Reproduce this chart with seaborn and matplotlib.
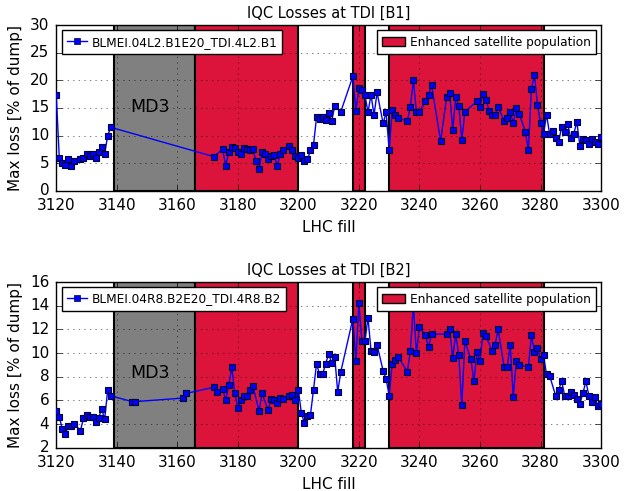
import matplotlib
matplotlib.use("Agg")
import matplotlib.pyplot as plt
import seaborn as sns
from matplotlib.lines import Line2D
from matplotlib.patches import Patch

# B1 data (fill number, max loss in % of dump)
fills_b1 = [3120, 3121, 3122, 3123, 3124, 3125, 3126, 3128, 3129, 3130, 3131, 3132, 3133, 3134,
            3135, 3136, 3137, 3138, 3172, 3175, 3176, 3177, 3178, 3179, 3180, 3181, 3182, 3183,
            3184, 3185, 3186, 3187, 3188, 3189, 3190, 3191, 3192, 3193, 3194, 3195, 3197, 3198,
            3199, 3200, 3201, 3202, 3203, 3204, 3205, 3206, 3207, 3208, 3209, 3210, 3211, 3212,
            3214, 3218, 3219, 3220, 3221, 3222, 3223, 3224, 3225, 3226, 3228, 3229, 3230, 3231,
            3232, 3233, 3236, 3237, 3238, 3239, 3240, 3242, 3243, 3244, 3247, 3249, 3250, 3251,
            3252, 3253, 3254, 3255, 3259, 3260, 3261, 3262, 3263, 3264, 3265, 3266, 3268, 3269,
            3270, 3271, 3272, 3273, 3275, 3276, 3277, 3278, 3279, 3280, 3281, 3282, 3283, 3284,
            3285, 3286, 3287, 3288, 3289, 3290, 3291, 3292, 3293, 3294, 3295, 3296, 3297, 3298,
            3299, 3300]
loss_b1 = [17.4, 6.0, 5.1, 4.6, 5.7, 4.5, 5.4, 5.7, 6.0, 6.7, 6.3, 6.6, 6.0, 7.0,
           7.9, 6.7, 10.0, 11.5, 6.2, 7.5, 4.5, 7.1, 7.9, 7.7, 7.1, 6.7, 7.7, 7.5,
           7.4, 7.5, 5.4, 3.9, 7.0, 6.6, 5.8, 6.3, 6.4, 4.5, 6.7, 7.3, 8.1, 7.3,
           6.3, 5.9, 6.4, 5.4, 5.7, 7.3, 8.3, 13.3, 13.0, 13.3, 12.9, 14.1, 12.6, 15.3,
           14.3, 20.7, 14.5, 18.6, 18.3, 17.3, 14.2, 17.4, 13.7, 17.8, 12.2, 14.2, 7.4, 14.6,
           13.7, 13.2, 12.6, 15.2, 20.0, 14.2, 14.3, 16.2, 17.3, 19.2, 9.0, 17.0, 17.7, 11.0,
           16.9, 15.4, 9.2, 14.3, 16.2, 15.2, 17.6, 16.5, 14.5, 13.7, 13.8, 15.1, 12.7, 13.2,
           14.2, 12.3, 14.9, 13.9, 10.7, 7.3, 18.5, 21.0, 15.5, 12.3, 10.3, 13.8, 10.3, 10.9,
           9.6, 8.9, 11.6, 10.7, 12.1, 9.5, 10.3, 12.5, 8.2, 9.4, 9.2, 8.4, 9.4, 8.9,
           8.5, 9.7]

# B2 data
fills_b2 = [3120, 3121, 3122, 3123, 3124, 3125, 3126, 3128, 3129, 3130, 3131, 3132, 3133, 3134,
            3135, 3136, 3137, 3138, 3145, 3146, 3162, 3163, 3172, 3173, 3175, 3176, 3177, 3178,
            3179, 3180, 3181, 3182, 3183, 3184, 3185, 3187, 3188, 3190, 3191, 3192, 3193, 3194,
            3195, 3197, 3198, 3199, 3200, 3201, 3202, 3203, 3204, 3205, 3206, 3207, 3208, 3209,
            3210, 3211, 3212, 3213, 3214, 3218, 3219, 3220, 3221, 3222, 3223, 3224, 3225, 3226,
            3228, 3229, 3230, 3231, 3232, 3233, 3236, 3237, 3238, 3239, 3240, 3242, 3243, 3244,
            3249, 3250, 3251, 3252, 3253, 3254, 3255, 3257, 3258, 3259, 3260, 3261, 3262, 3264,
            3265, 3266, 3268, 3269, 3270, 3271, 3272, 3273, 3276, 3277, 3278, 3279, 3280, 3281,
            3282, 3283, 3285, 3286, 3287, 3288, 3289, 3290, 3291, 3292, 3293, 3294, 3295, 3296,
            3297, 3298, 3299, 3300]
loss_b2 = [5.1, 4.6, 3.6, 3.2, 3.8, 3.8, 4.0, 3.45, 4.5, 4.8, 4.6, 4.6, 4.2, 4.5,
           5.3, 4.4, 6.9, 6.4, 5.9, 5.9, 6.2, 6.6, 7.1, 6.7, 7.0, 6.0, 7.3, 8.8,
           6.6, 5.4, 6.0, 6.4, 6.4, 6.9, 7.2, 5.1, 6.6, 5.2, 6.1, 6.0, 5.8, 6.2,
           6.1, 6.4, 6.5, 6.0, 6.9, 4.9, 4.1, 4.7, 4.8, 6.9, 9.1, 8.2, 8.2, 9.1,
           9.9, 9.2, 9.7, 6.7, 8.4, 12.9, 9.3, 14.2, 11.0, 11.0, 13.0, 10.2, 10.1, 10.7,
           8.5, 7.8, 6.4, 9.1, 9.4, 9.7, 8.4, 10.2, 14.0, 10.0, 12.2, 11.5, 10.5, 11.6,
           11.6, 12.0, 9.6, 11.6, 9.8, 5.6, 11.0, 9.5, 7.6, 10.1, 9.3, 11.7, 11.4, 10.2,
           10.7, 12.0, 8.8, 8.8, 10.7, 6.3, 9.3, 9.0, 8.8, 11.5, 10.1, 10.4, 9.5, 9.8,
           8.2, 8.1, 6.4, 6.9, 7.6, 6.4, 6.4, 6.7, 6.5, 6.1, 5.7, 6.6, 7.6, 6.4,
           5.9, 6.3, 5.5, 5.7]

md_period = (3139, 3166)
satellite_periods = [(3166, 3200), (3218, 3222), (3230, 3281)]

plt.style.use("classic")
plt.rcParams["font.family"] = ["DejaVu Sans"]

fig, axes = plt.subplots(2, 1, figsize=(6.32, 4.91), dpi=100)
fig.patch.set_facecolor("white")
fig.subplots_adjust(left=0.089, right=0.951, top=0.949, bottom=0.088, hspace=0.55)

panels = [
    (axes[0], fills_b1, loss_b1, "IQC Losses at TDI [B1]", "BLMEI.04L2.B1E20_TDI.4L2.B1", (0, 30), range(0, 31, 5), 15.1),
    (axes[1], fills_b2, loss_b2, "IQC Losses at TDI [B2]", "BLMEI.04R8.B2E20_TDI.4R8.B2", (2, 16), range(2, 17, 2), 8.3),
]

for ax, fills, loss, title, blm, ylim, yticks, md_y in panels:
    ax.axvspan(*md_period, facecolor="0.5", edgecolor="k", lw=1.5, zorder=1)
    for start, end in satellite_periods:
        ax.axvspan(start, end, facecolor="crimson", edgecolor="k", lw=1.5, zorder=1)
    ax.text(sum(md_period) / 2 - 1.5, md_y, "MD3", fontsize=12.5, ha="center", va="center")

    sns.lineplot(x=fills, y=loss, ax=ax, color="b", marker="s", markersize=4.5,
                 markeredgecolor="#000033", markeredgewidth=0.8, linewidth=1.0, zorder=3)

    ax.set_xlim(3120, 3300)
    ax.set_ylim(*ylim)
    ax.set_xticks(range(3120, 3301, 20))
    ax.set_yticks(list(yticks))
    ax.grid(True, color="k", linestyle=":", alpha=0.7)
    ax.tick_params(labelsize=11)
    ax.tick_params(axis="x", pad=5)
    ax.tick_params(axis="y", pad=5)
    ax.set_title(title, fontsize=10.5)
    ax.set_xlabel("LHC fill", fontsize=11)
    ax.set_ylabel("Max loss [% of dump]", fontsize=11)

    line_handle = Line2D([], [], color="b", marker="s", markersize=4.5,
                         markeredgecolor="#000033", linewidth=1.0)
    leg1 = ax.legend(handles=[line_handle], labels=[blm], loc="upper left",
                     fontsize=8.7, numpoints=1, borderaxespad=0.45,
                     handlelength=1.7, handletextpad=0.35, borderpad=0.42)
    ax.add_artist(leg1)
    ax.legend(handles=[Patch(facecolor="crimson", edgecolor="k")],
              labels=["Enhanced satellite population"], loc="upper right",
              fontsize=8.7, borderaxespad=0.45,
              handlelength=1.9, handletextpad=0.35, borderpad=0.42)

plt.savefig("out.png", dpi=100, facecolor="white")
